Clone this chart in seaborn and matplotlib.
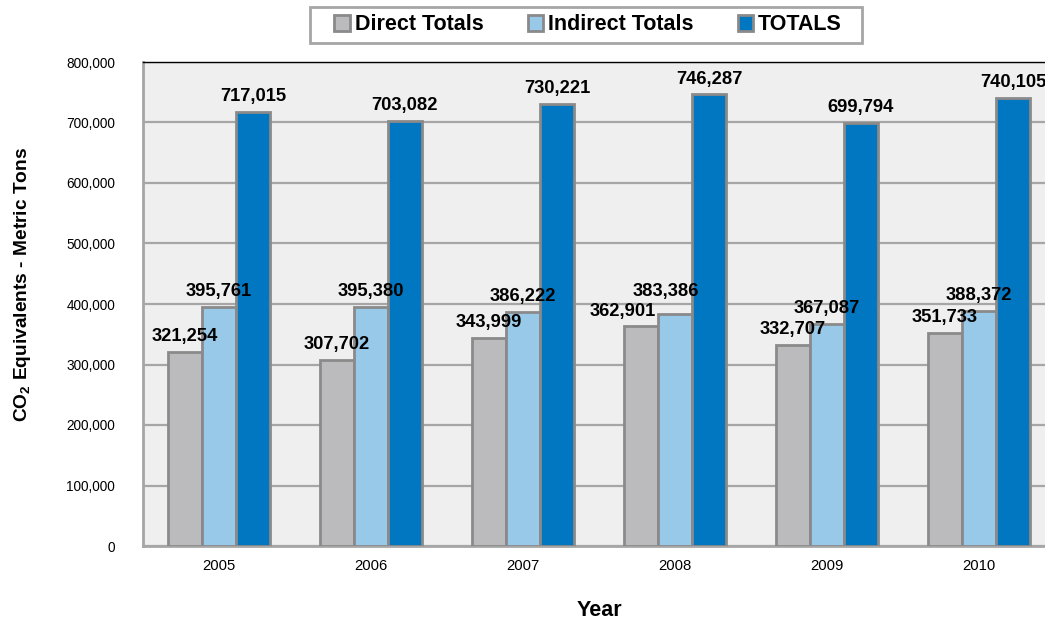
import numpy as np
import pandas as pd
import matplotlib
matplotlib.use("Agg")
import matplotlib.pyplot as plt
import matplotlib.ticker as mticker
import seaborn as sns

years = ["2005", "2006", "2007", "2008", "2009", "2010"]
direct_totals = [321254, 307702, 343999, 362901, 332707, 351733]
indirect_totals = [395761, 395380, 386222, 383386, 367087, 388372]
totals = [717015, 703082, 730221, 746287, 699794, 740105]
series_names = ["Direct Totals", "Indirect Totals", "TOTALS"]
series_colors = ["#bbbbbd", "#98c9e8", "#0077c0"]

df = pd.DataFrame({
    "Year": years * 3,
    "Value": direct_totals + indirect_totals + totals,
    "Series": np.repeat(series_names, len(years)),
})

sns.set_style("white")
plt.rcParams["font.family"] = ["Liberation Sans", "DejaVu Sans"]
plt.rcParams["mathtext.fontset"] = "custom"
plt.rcParams["mathtext.rm"] = "Liberation Sans"
plt.rcParams["mathtext.bf"] = "Liberation Sans:bold"
plt.rcParams["text.color"] = "black"
plt.rcParams["axes.labelcolor"] = "black"
plt.rcParams["xtick.color"] = "black"
plt.rcParams["ytick.color"] = "black"

fig = plt.figure(figsize=(10.45, 6.23), dpi=100)
ax = fig.add_axes([143 / 1045, 1 - 546 / 623, 912 / 1045, 484 / 623])
ax.set_facecolor("#efefef")

sns.barplot(
    data=df, x="Year", y="Value", hue="Series",
    palette=series_colors, saturation=1, width=0.67, gap=0,
    edgecolor="#8a8a8a", linewidth=2, ax=ax, legend=False, zorder=3,
)

label_sets = []
for cont in ax.containers:
    txts = ax.bar_label(cont, labels=[f"{v:,.0f}" for v in cont.datavalues],
                        padding=5, fontsize=13.2, fontweight="bold", zorder=4)
    label_sets.append(txts)

ax.set_ylim(0, 800000)
ax.yaxis.set_major_locator(mticker.MultipleLocator(100000))
ax.yaxis.set_major_formatter(mticker.FuncFormatter(lambda v, p: f"{v:,.0f}"))
ax.grid(axis="y", color="#a6a6a6", linewidth=1.6, zorder=0)
ax.set_axisbelow(True)

ax.tick_params(axis="y", length=0, pad=20, labelsize=9.8)
ax.tick_params(axis="x", length=0, pad=9, labelsize=10.7)

for side in ["left", "bottom", "right"]:
    ax.spines[side].set_color("#a6a6a6")
    ax.spines[side].set_linewidth(2)
ax.spines["top"].set_color("black")
ax.spines["top"].set_linewidth(1)

ax.set_xlabel("Year", fontsize=15.5, fontweight="bold", labelpad=20)
ax.set_ylabel(r"CO$_{\mathbf{2}}$ Equivalents - Metric Tons",
              fontsize=13.8, fontweight="bold")
ax.yaxis.set_label_coords(-0.121, 0.54)

# nudge colliding direct / indirect labels apart (like the original tool does)
fig.canvas.draw()
r = fig.canvas.get_renderer()
px2pt = 72 / fig.dpi
for d, i in zip(label_sets[0], label_sets[1]):
    bd, bi = d.get_window_extent(r), i.get_window_extent(r)
    if bd.overlaps(bi):
        dx = min(18, bd.x1 - bi.x0 + 2)
        d.xyann = (d.xyann[0] - dx * px2pt, d.xyann[1])
        i.xyann = (i.xyann[0] - 0.5 * dx * px2pt, i.xyann[1])
        bd, bi = d.get_window_extent(r), i.get_window_extent(r)
        if bd.overlaps(bi):
            dy = bd.y1 - bi.y0 + 3
            i.xyann = (i.xyann[0], i.xyann[1] + dy * px2pt)

handles = [plt.Rectangle((0, 0), 1, 1, facecolor=c, edgecolor="#8a8a8a", linewidth=2)
           for c in series_colors]
leg = fig.legend(handles, series_names, loc="center",
                 bbox_to_anchor=(588 / 1045, 1 - 25 / 623), ncol=3,
                 frameon=False, handlelength=0.72, handleheight=0.72,
                 handletextpad=0.23, columnspacing=2.05,
                 borderaxespad=0, prop={"size": 15.5, "weight": "bold"})
fig.patches.append(plt.Rectangle((310 / 1045, 1 - 43 / 623), 552 / 1045, 36 / 623,
                                 transform=fig.transFigure, facecolor="white",
                                 edgecolor="#a6a6a6", linewidth=2, zorder=0))

fig.savefig("out.png", dpi=100)
